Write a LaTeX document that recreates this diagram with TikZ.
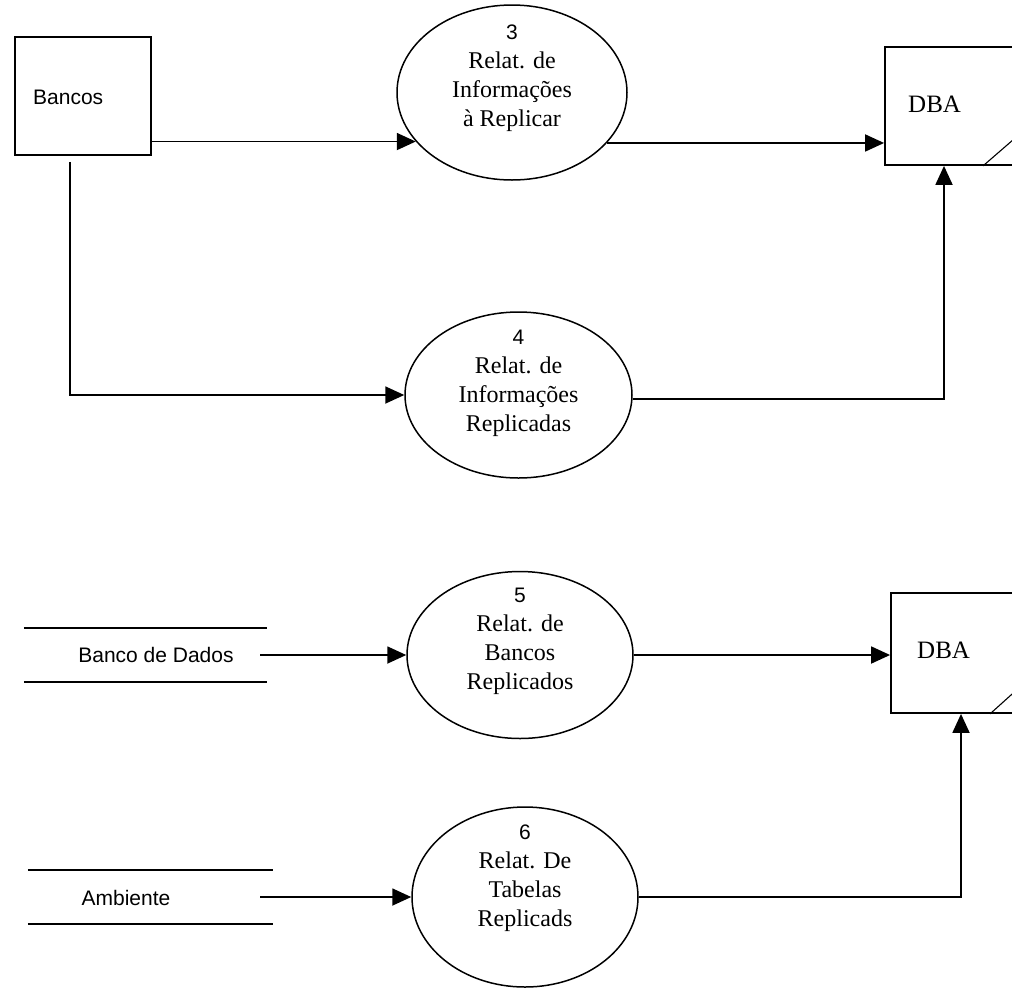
\documentclass[tikz,border=0pt]{standalone}
\usepackage{fontspec}
\setmainfont{Liberation Serif}
\newfontfamily\arialf{Liberation Sans}
\usetikzlibrary{shapes.geometric,arrows.meta,calc}

\begin{document}
\begin{tikzpicture}[x=1pt,y=-1pt,
  proc/.style={ellipse, draw, line width=1.5pt, inner sep=0pt},
  entity/.style={rectangle, draw, line width=1.8pt, inner sep=0pt},
  storebox/.style={rectangle, draw=none, inner sep=0pt},
  flow/.style={line width=1.8pt, -{Triangle[length=19pt,width=17pt]}},
  plain/.style={line width=1.8pt},
  thinline/.style={line width=1.1pt},
  sanslabel/.style={font=\arialf\fontsize{21}{25}\selectfont, inner sep=0pt},
  proclabel/.style={align=center, font=\fontsize{24}{29}\selectfont, inner sep=0pt},
  numfont/.style={},
  dbalabel/.style={font=\fontsize{25}{30}\selectfont, inner sep=0pt, anchor=west},
]
\useasboundingbox (0,0) rectangle (1012,989);
\clip (0,0) rectangle (1012,989);

% external entities
\node[entity, minimum width=136pt, minimum height=118pt] (bancos) at (83,96) {};
\node[sanslabel, anchor=west] (tbancos) at (33,97) {Bancos};

\node[entity, minimum width=160pt, minimum height=118pt] (dba1) at (965,106) {};
\node[dbalabel] (tdba1) at (908,104) {DBA};
\node[entity, minimum width=160pt, minimum height=120pt] (dba2) at (971,653) {};
\node[dbalabel] (tdba2) at (917,650) {DBA};

% diagonal strokes at the lower right of the DBA boxes
\draw[thinline] ([xshift=18pt]dba1.south) -- ++(60,-52);
\draw[thinline] ([xshift=19pt]dba2.south) -- ++(50,-45);

% data stores
\node[storebox, minimum width=243pt, minimum height=54pt] (bd) at (145.5,655) {};
\draw[plain] (bd.north west) -- (bd.north east);
\draw[plain] (bd.south west) -- (bd.south east);
\node[sanslabel] (tbd) at (156,655) {Banco de Dados};

\node[storebox, minimum width=245pt, minimum height=54pt] (amb) at (150.5,897) {};
\draw[plain] (amb.north west) -- (amb.north east);
\draw[plain] (amb.south west) -- (amb.south east);
\node[sanslabel] (tamb) at (126,898) {Ambiente};

% processes
\newcommand\procnum[1]{{\arialf\fontsize{21}{29}\selectfont #1}}
\node[proc, minimum width=230pt, minimum height=175pt] (e3) at (512,92.5) {};
\node[proclabel] (t3) at ([yshift=14.5pt]e3.center)
  {\procnum{3}\\Relat. de\\Informações\\à Replicar};

\node[proc, minimum width=227pt, minimum height=166pt] (e4) at (518.5,395) {};
\node[proclabel] (t4) at ([yshift=12pt]e4.center)
  {\procnum{4}\\Relat. de\\Informações\\Replicadas};

\node[proc, minimum width=226pt, minimum height=167pt] (e5) at (520,655) {};
\node[proclabel] (t5) at ([yshift=14pt]e5.center)
  {\procnum{5}\\Relat. de\\Bancos\\Replicados};

\node[proc, minimum width=226pt, minimum height=180pt] (e6) at (525,897) {};
\node[proclabel] (t6) at ([yshift=19pt]e6.center)
  {\procnum{6}\\Relat. De\\Tabelas\\Replicads};

% flows
\draw[flow] (bancos.east |- e3.207.5) -- (e3.207.5);
\draw[flow] (e3.332.5) -- (dba1.west |- e3.332.5);
\draw[flow] ([xshift=-13pt,yshift=-6pt]bancos.south) |- (e4.west);
\draw[flow] (e4.358) -| ([xshift=-21pt]dba1.south);

\draw[flow] ([xshift=-7pt]bd.east) -- (e5.west);
\draw[flow] (e5.east) -- (dba2.west |- e5.east);
\draw[flow] ([xshift=-13pt]amb.east) -- (e6.west);
\draw[flow] (e6.east) -| ([xshift=-10pt]dba2.south);
\end{tikzpicture}
\end{document}
